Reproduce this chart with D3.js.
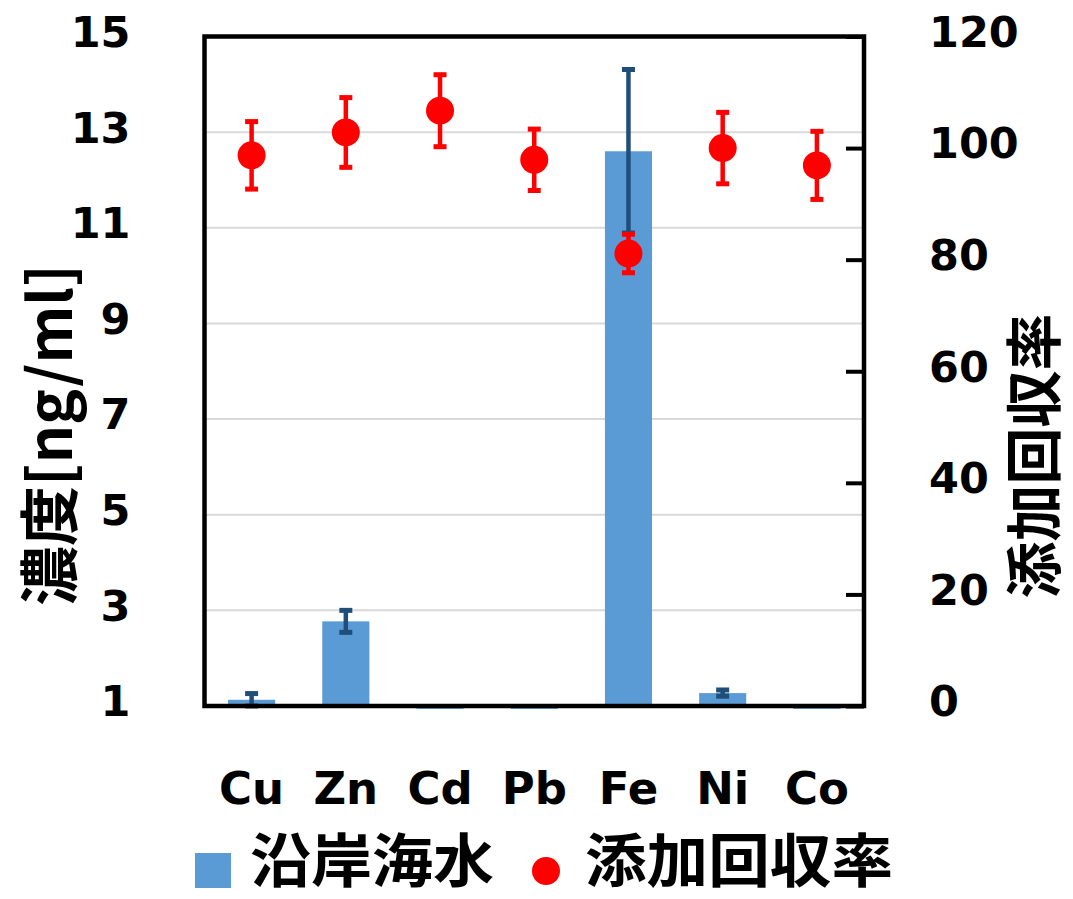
<!DOCTYPE html>
<html>
<head>
<meta charset="utf-8">
<script src="https://cdn.jsdelivr.net/npm/d3@7"></script>
<style>
  html, body { margin: 0; padding: 0; background: #fff; }
  svg { display: block; }
</style>
</head>
<body>
<svg id="chart" width="1073" height="899"></svg>
<script>
// Metals measured in coastal seawater
const categories = ["Cu", "Zn", "Cd", "Pb", "Fe", "Ni", "Co"];
// Concentration in coastal seawater [ng/ml] and its error
const concentration = [1.13, 2.77, 0.94, 0.94, 12.6, 1.27, 0.94];
const concentrationErr = [0.13, 0.23, 0, 0, 1.71, 0.065, 0];
// Spike recovery [%] and its error
const recovery = [98.7, 102.8, 106.7, 97.9, 81.1, 100.0, 96.9];
const recoveryErr = [6.05, 6.25, 6.45, 5.5, 3.45, 6.4, 6.1];
// Axis ticks
const leftTicks = [1, 3, 5, 7, 9, 11, 13, 15];
const rightTicks = [0, 20, 40, 60, 80, 100, 120];
// Labels
const leftTitle = "濃度[ng/ml]";
const rightTitle = "添加回収率";
const seriesNames = ["沿岸海水", "添加回収率"];

const BAR = "#5b9bd5", BAR_ERR = "#1f4e79", DOT = "#ff0000";
const NUM_FONT = "'DejaVu Sans', sans-serif";
const CJK_FONT = "'Noto Sans CJK JP', 'Noto Sans', sans-serif";

const svg = d3.select("#chart");
const plot = { left: 204.5, right: 864, top: 36.5, bottom: 706 };

const x = d3.scaleBand().domain(categories).range([plot.left, plot.right]).paddingInner(0).paddingOuter(0);
const yL = d3.scaleLinear().domain([1, 15]).range([plot.bottom, plot.top]);
const yR = d3.scaleLinear().domain([0, 120]).range([plot.bottom, plot.top]);
const barW = x.bandwidth() * 0.5;
const cx = d => x(d) + x.bandwidth() / 2;

// gridlines
svg.append("g").selectAll("line").data(leftTicks.filter(t => t > 1 && t < 15)).join("line")
  .attr("x1", plot.left).attr("x2", plot.right)
  .attr("y1", d => yL(d)).attr("y2", d => yL(d))
  .attr("stroke", "#d9d9d9").attr("stroke-width", 2);

// bars (start at the axis baseline value 1)
svg.append("g").selectAll("rect").data(categories).join("rect")
  .attr("x", (d) => cx(d) - barW / 2)
  .attr("width", barW)
  .attr("y", (d, i) => Math.min(yL(concentration[i]), yL(1)))
  .attr("height", (d, i) => Math.abs(yL(concentration[i]) - yL(1)))
  .attr("fill", BAR);

// error bars helper
function errorBars(g, scale, vals, errs, color) {
  const capW = 13, sw = 4.5;
  categories.forEach((c, i) => {
    if (!errs[i]) return;
    const hi = scale(vals[i] + errs[i]), lo = scale(vals[i] - errs[i]);
    const xc = cx(c);
    g.append("line").attr("x1", xc).attr("x2", xc).attr("y1", hi).attr("y2", lo)
      .attr("stroke", color).attr("stroke-width", sw);
    [hi, lo].forEach(yy => g.append("line")
      .attr("x1", xc - capW / 2).attr("x2", xc + capW / 2).attr("y1", yy).attr("y2", yy)
      .attr("stroke", color).attr("stroke-width", 5));
  });
}
errorBars(svg.append("g"), yL, concentration, concentrationErr, BAR_ERR);

// frame
svg.append("rect")
  .attr("x", plot.left).attr("y", plot.top)
  .attr("width", plot.right - plot.left).attr("height", plot.bottom - plot.top)
  .attr("fill", "none").attr("stroke", "#000").attr("stroke-width", 4.5);

// left axis
const gL = svg.append("g").attr("transform", `translate(${plot.left},0)`)
  .call(d3.axisLeft(yL).tickValues(leftTicks).tickSize(0).tickPadding(74));
gL.select(".domain").remove();
gL.selectAll("text").attr("font-family", NUM_FONT).attr("font-weight", "bold")
  .attr("font-size", 43).attr("fill", "#000").attr("dy", "0.23em");

// right axis with inward ticks
const gR = svg.append("g").attr("transform", `translate(${plot.right},0)`)
  .call(d3.axisRight(yR).tickValues(rightTicks).tickSizeInner(-18).tickSizeOuter(0).tickPadding(65));
gR.select(".domain").remove();
gR.selectAll(".tick line").attr("stroke", "#000").attr("stroke-width", 4);
gR.selectAll("text").attr("font-family", NUM_FONT).attr("font-weight", "bold")
  .attr("font-size", 43).attr("fill", "#000").attr("dy", "0.23em");

// category axis
const gB = svg.append("g").attr("transform", `translate(0,${plot.bottom})`)
  .call(d3.axisBottom(x).tickSize(0).tickPadding(66));
gB.select(".domain").remove();
gB.selectAll("text").attr("font-family", NUM_FONT).attr("font-weight", "bold")
  .attr("font-size", 45).attr("fill", "#000");

// recovery points with error bars
errorBars(svg.append("g"), yR, recovery, recoveryErr, DOT);
svg.append("g").selectAll("circle").data(categories).join("circle")
  .attr("cx", d => cx(d)).attr("cy", (d, i) => yR(recovery[i])).attr("r", 14)
  .attr("fill", DOT);

// axis titles
svg.append("text").attr("transform", "translate(45,435) rotate(-90)")
  .attr("text-anchor", "middle").attr("dominant-baseline", "central")
  .attr("font-family", CJK_FONT).attr("font-weight", "bold").attr("font-size", 60)
  .text(leftTitle);
svg.append("text").attr("transform", "translate(1055,456) rotate(-90)")
  .attr("text-anchor", "middle")
  .attr("font-family", CJK_FONT).attr("font-weight", "bold").attr("font-size", 57)
  .text(rightTitle);

// legend
const lg = svg.append("g");
lg.append("rect").attr("x", 195).attr("y", 853).attr("width", 36).attr("height", 35).attr("fill", BAR);
lg.append("text").attr("x", 250).attr("y", 882)
  .attr("font-family", CJK_FONT).attr("font-weight", "bold").attr("font-size", 58)
  .attr("textLength", 244).attr("lengthAdjust", "spacingAndGlyphs")
  .text(seriesNames[0]);
lg.append("circle").attr("cx", 546).attr("cy", 871).attr("r", 14).attr("fill", DOT);
lg.append("text").attr("x", 585).attr("y", 882)
  .attr("font-family", CJK_FONT).attr("font-weight", "bold").attr("font-size", 58)
  .attr("textLength", 308).attr("lengthAdjust", "spacingAndGlyphs")
  .text(seriesNames[1]);
</script>
</body>
</html>
